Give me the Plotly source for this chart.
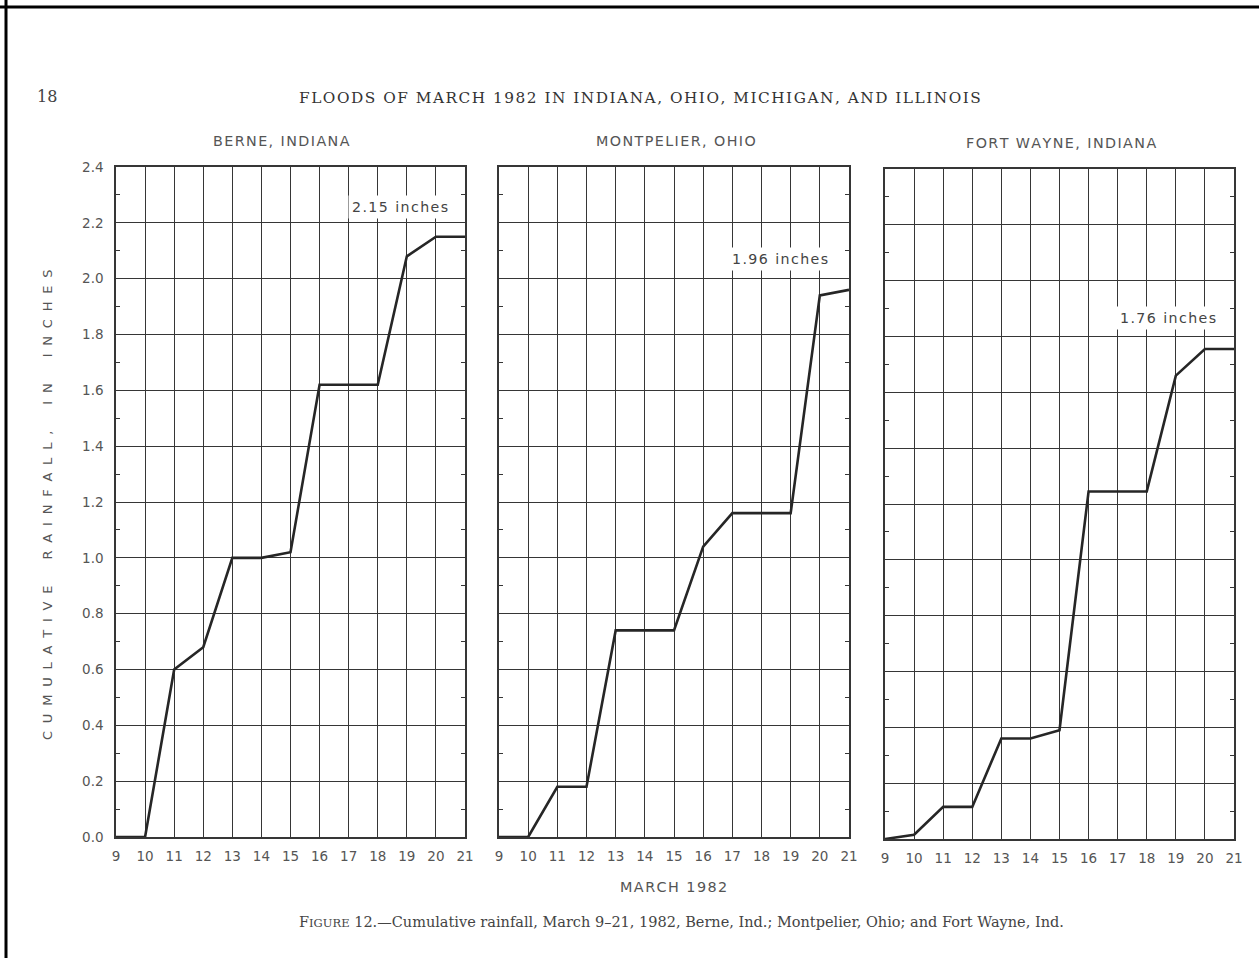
import plotly.graph_objects as go

W, H = 1259, 958

days = [9, 10, 11, 12, 13, 14, 15, 16, 17, 18, 19, 20, 21]
berne = [0.0, 0.0, 0.60, 0.68, 1.00, 1.00, 1.02, 1.62, 1.62, 1.62, 2.08, 2.15, 2.15]
montpelier = [0.0, 0.0, 0.18, 0.18, 0.74, 0.74, 0.74, 1.04, 1.16, 1.16, 1.16, 1.94, 1.96]
fort_wayne = [0.0, 0.015, 0.115, 0.115, 0.36, 0.36, 0.39, 1.245, 1.245, 1.245, 1.66, 1.755, 1.755]

stations = ["BERNE, INDIANA", "MONTPELIER, OHIO", "FORT WAYNE, INDIANA"]
totals = ["2.15 inches", "1.96 inches", "1.76 inches"]
total_label_pos = [(18.77, 2.255), (18.63, 2.07), (18.73, 1.865)]
y_ticks = [0.0, 0.2, 0.4, 0.6, 0.8, 1.0, 1.2, 1.4, 1.6, 1.8, 2.0, 2.2, 2.4]
y_tick_text = ["0.0", "0.2", "0.4", "0.6", "0.8", "1.0", "1.2", "1.4", "1.6", "1.8", "2.0", "2.2", "2.4"]

series = [berne, montpelier, fort_wayne]

# panel pixel boxes (left, right, top, bottom)
boxes = [(116, 465, 167, 837), (499, 849, 167, 837), (885, 1234, 169, 839)]


def px(x):
    return x / W


def py(y):
    return 1 - y / H


def spaced(s, sep="\u200a"):
    return sep.join(list(s))


GRID = "#363636"
TXT = "#555555"
SANS = "DejaVu Sans, Arial, sans-serif"
SERIF = "DejaVu Serif, Liberation Serif, serif"

fig = go.Figure()
layout = dict(
    width=W, height=H, autosize=False,
    margin=dict(l=0, r=0, t=0, b=0),
    paper_bgcolor="white", plot_bgcolor="white",
    showlegend=False,
)

for i, (vals, box) in enumerate(zip(series, boxes)):
    sfx = "" if i == 0 else str(i + 1)
    fig.add_trace(go.Scatter(
        x=days, y=vals, mode="lines",
        line=dict(color="#262626", width=2.6),
        xaxis="x" + sfx, yaxis="y" + sfx, hoverinfo="skip",
    ))
    l, r, t, b = box
    layout["xaxis" + sfx] = dict(
        domain=[px(l), px(r)], range=[9, 21], anchor="y" + sfx,
        tickmode="array", tickvals=days, ticktext=[str(d) for d in days],
        showgrid=True, gridcolor=GRID, gridwidth=1.3,
        showline=True, linecolor=GRID, linewidth=1.5, mirror=True,
        ticks="", zeroline=False,
        tickfont=dict(family=SANS, size=13.5, color=TXT),
        ticklabelstandoff=6,
        automargin=False,
    )
    layout["yaxis" + sfx] = dict(
        domain=[py(b), py(t)], range=[0, 2.4], anchor="x" + sfx,
        tickmode="array", tickvals=y_ticks, ticktext=y_tick_text,
        showticklabels=(i == 0),
        showgrid=True, gridcolor=GRID, gridwidth=1.3,
        showline=True, linecolor=GRID, linewidth=1.5, mirror="allticks",
        ticks="inside", ticklen=4, tickcolor=GRID, zeroline=False,
        minor=dict(dtick=0.1, tick0=0, ticks="inside", ticklen=4, tickcolor=GRID, showgrid=False),
        tickfont=dict(family=SANS, size=13.5, color=TXT),
        ticklabelstandoff=8,
        automargin=False,
    )

annotations = []
for i, (txt, (ax_, ay_)) in enumerate(zip(totals, total_label_pos)):
    sfx = "" if i == 0 else str(i + 1)
    annotations.append(dict(
        x=ax_, y=ay_, xref="x" + sfx, yref="y" + sfx, text=spaced(txt), showarrow=False,
        font=dict(family=SANS, size=14.2, color="#444444"),
        bgcolor="white", borderpad=3,
    ))

title_centers = [(281, 141), (676, 141), (1061, 143)]
for name, (cx, cy) in zip(stations, title_centers):
    annotations.append(dict(
        x=px(cx), y=py(cy), xref="paper", yref="paper", text=spaced(name), showarrow=False,
        font=dict(family=SANS, size=14.3, color=TXT), xanchor="center", yanchor="middle",
    ))

ytitle = "\u2002\u2002\u2002\u2002".join(
    "\u2002\u200a".join(list(w)) for w in ["CUMULATIVE", "RAINFALL,", "IN", "INCHES"]
)

annotations += [
    dict(x=px(47), y=py(97), xref="paper", yref="paper", text="18", showarrow=False,
         font=dict(family=SERIF, size=16, color="#444444"), xanchor="center", yanchor="middle"),
    dict(x=px(640), y=py(98), xref="paper", yref="paper",
         text=spaced("FLOODS OF MARCH 1982 IN INDIANA, OHIO, MICHIGAN, AND ILLINOIS"), showarrow=False,
         font=dict(family=SERIF, size=15.3, color="#333333"), xanchor="center", yanchor="middle"),
    dict(x=px(47), y=py(505), xref="paper", yref="paper",
         text=ytitle, showarrow=False,
         textangle=-90, font=dict(family=SANS, size=13, color=TXT), xanchor="center", yanchor="middle"),
    dict(x=px(673), y=py(887), xref="paper", yref="paper", text=spaced("MARCH 1982"), showarrow=False,
         font=dict(family=SANS, size=14.4, color=TXT), xanchor="center", yanchor="middle"),
    dict(x=px(681), y=py(922), xref="paper", yref="paper",
         text="F<span style='font-size:11.5px'>IGURE</span> 12.\u2014Cumulative rainfall, March 9\u201321, 1982, Berne, Ind.; Montpelier, Ohio; and Fort Wayne, Ind.",
         showarrow=False, font=dict(family=SERIF, size=14.5, color="#444444"), xanchor="center", yanchor="middle"),
]
layout["annotations"] = annotations

layout["shapes"] = [
    dict(type="line", xref="paper", yref="paper", x0=0, x1=1, y0=py(7), y1=py(7),
         line=dict(color="black", width=3)),
    dict(type="line", xref="paper", yref="paper", x0=px(6), x1=px(6), y0=0, y1=1,
         line=dict(color="black", width=3)),
]

fig.update_layout(**layout)
fig.write_html("out.html", config={"displayModeBar": False},
               post_script="document.body.style.margin='0px';")
